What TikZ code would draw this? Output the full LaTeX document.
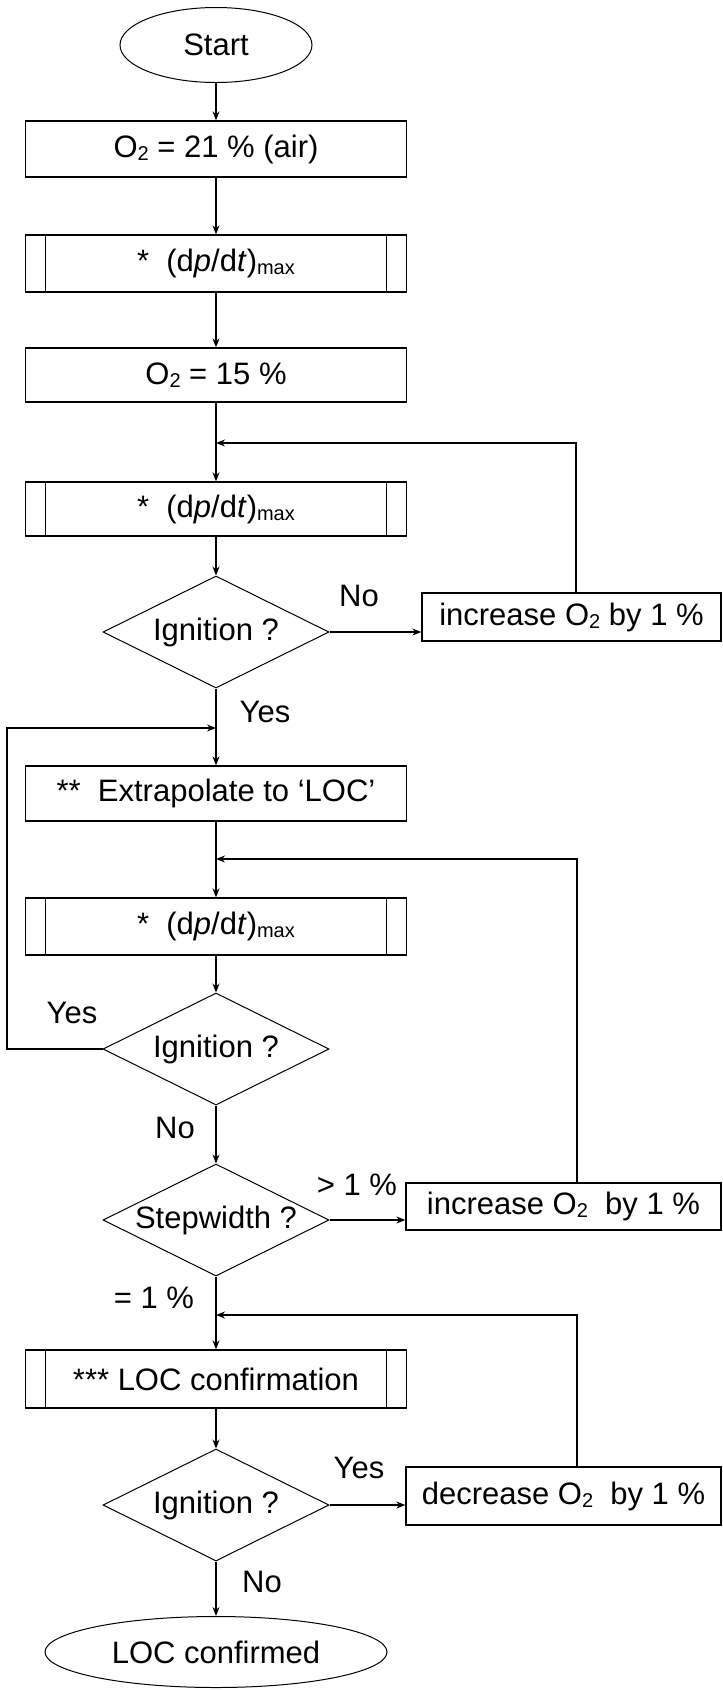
\documentclass[tikz,border=0pt]{standalone}
\usepackage{fontspec}
\setmainfont{Liberation Sans}
\usetikzlibrary{shapes.geometric,arrows.meta,calc}
\newcommand\mysub[1]{\raisebox{-0.1em}{\fontsize{20}{20}\selectfont #1}}
\begin{document}
\begin{tikzpicture}[x=1pt,y=-1pt,
  every node/.style={font=\fontsize{31}{37}\selectfont},
  box/.style={draw, rectangle, line width=1.3pt, inner sep=0pt, minimum width=381pt},
  proc/.style={box, path picture={
      \draw[line width=1.3pt]
        ([xshift=20pt]path picture bounding box.north west) -- ([xshift=20pt]path picture bounding box.south west)
        ([xshift=-20pt]path picture bounding box.north east) -- ([xshift=-20pt]path picture bounding box.south east);}},
  side/.style={draw, rectangle, line width=1.3pt, inner sep=0pt},
  dia/.style={draw, diamond, aspect=2, inner sep=0pt, minimum width=226pt, minimum height=112pt, line width=1pt},
  term/.style={draw, ellipse, inner sep=0pt, line width=1pt},
  lbl/.style={inner sep=0pt},
  arr/.style={line width=1.3pt, -{Stealth[length=9pt,width=7pt]}},
  ln/.style={line width=1.3pt}
]
\useasboundingbox (0,0) rectangle (723,1690);

% main column
\node[term, minimum width=192pt, minimum height=75pt] (start) at (216,45) {Start};
\node[box, minimum height=56pt] (b1) at (216,149) {O\mysub{2} = 21 \% (air)};
\node[proc, minimum height=57pt] (b2) at (216,263.5) {*~~(d\textit{p}/d\textit{t})\mysub{max}};
\node[box, minimum height=54pt] (b3) at (216,375) {O\mysub{2} = 15 \%};
\node[proc, minimum height=54pt] (b4) at (216,509) {*~~(d\textit{p}/d\textit{t})\mysub{max}};
\node[dia] (d1) at (216,632) {\makebox[0pt]{Ignition ?}};
\node[box, minimum height=55pt] (b5) at (216,793.5) {**~~Extrapolate to ‘LOC’};
\node[proc, minimum height=57pt] (b6) at (216,926.5) {*~~(d\textit{p}/d\textit{t})\mysub{max}};
\node[dia] (d2) at (216,1049) {\makebox[0pt]{Ignition ?}};
\node[dia] (d3) at (216,1220) {\makebox[0pt]{Stepwidth ?}};
\node[proc, minimum height=58pt] (b7) at (216,1379) {*** LOC confirmation};
\node[dia] (d4) at (216,1505) {\makebox[0pt]{Ignition ?}};
\node[term, minimum width=342pt, minimum height=71pt] (end) at (216,1652) {LOC confirmed};

% side boxes
\node[side, minimum width=299pt, minimum height=48pt] (inc1) at (571.5,617) {increase O\mysub{2} by 1 \%};
\node[side, minimum width=315pt, minimum height=47pt] (inc2) at (563.5,1206.5) {increase O\mysub{2}~~by 1 \%};
\node[side, minimum width=315pt, minimum height=58pt] (dec) at (563.5,1496) {decrease O\mysub{2}~~by 1 \%};

% labels
\node[lbl] (l1) at (359,596) {No};
\node[lbl] (l2) at (265,712) {Yes};
\node[lbl] (l3) at (72,1013) {Yes};
\node[lbl] (l4) at (175,1128) {No};
\node[lbl] (l5) at (357,1185) {> 1 \%};
\node[lbl] (l6) at (154,1298) {= 1 \%};
\node[lbl] (l7) at (359,1468) {Yes};
\node[lbl] (l8) at (262,1582) {No};

% loop coordinates
\coordinate (L1) at (576,443);
\coordinate (LL) at (7,728);
\coordinate (L2) at (577,859);
\coordinate (L3) at (577,1315);

% vertical flow
\draw[arr] (start) -- (b1);
\draw[arr] (b1) -- (b2);
\draw[arr] (b2) -- (b3);
\draw[arr] (b3) -- (b4);
\draw[arr] (b4) -- (d1);
\draw[arr] (d1) -- (b5);
\draw[arr] (b5) -- (b6);
\draw[arr] (b6) -- (d2);
\draw[arr] (d2) -- (d3);
\draw[arr] (d3) -- (b7);
\draw[arr] (b7) -- (d4);
\draw[arr] (d4) -- (end);

% side arrows
\draw[arr] (d1.east) -- (d1.east -| inc1.west);
\draw[arr] (d3.east) -- (d3.east -| inc2.west);
\draw[arr] (d4.east) -- (d4.east -| dec.west);

% loops
\draw[arr] (inc1.north -| L1) -- (L1) -- (L1 -| b4.north);
\draw[arr] (d2.west) -- (d2.west -| LL) -- (LL) -- (LL -| b5.north);
\draw[arr] (inc2.north -| L2) -- (L2) -- (L2 -| b6.north);
\draw[arr] (dec.north -| L3) -- (L3) -- (L3 -| b7.north);
\end{tikzpicture}
\end{document}
